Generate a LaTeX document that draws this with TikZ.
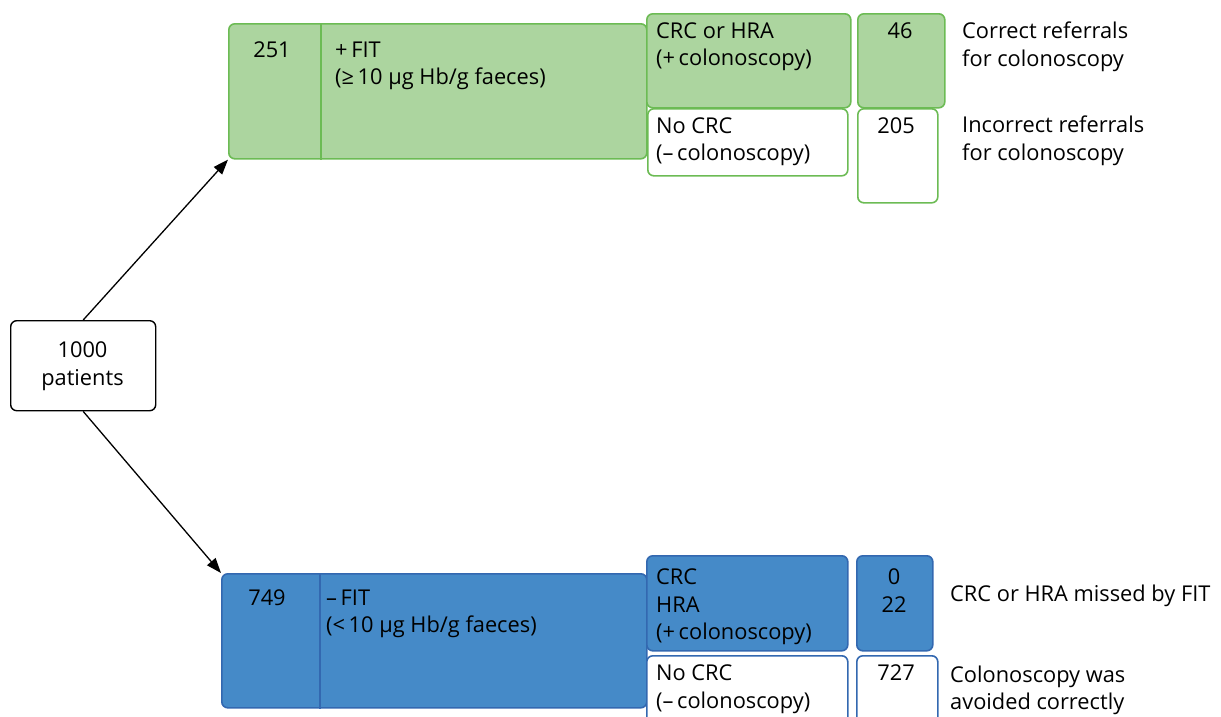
\documentclass[tikz,border=0pt]{standalone}
\usepackage{fontspec}
\setmainfont{Open Sans}
\usetikzlibrary{arrows.meta}
\definecolor{gfill}{RGB}{172,213,159}
\definecolor{gline}{RGB}{108,187,84}
\definecolor{bfill}{RGB}{69,138,200}
\definecolor{bline}{RGB}{51,104,176}
\newcommand{\dfont}{\fontsize{21.8}{27.5}\selectfont}
\begin{document}
\begin{tikzpicture}[x=1pt,y=-1pt,
 box/.style={draw, rounded corners=6pt, inner sep=0pt, anchor=north west, line width=1.6pt},
 gbox/.style={box, draw=gline, fill=gfill},
 gwbox/.style={box, draw=gline, fill=white},
 bbox/.style={box, draw=bline, fill=bfill},
 bwbox/.style={box, draw=bline, fill=white},
 kbox/.style={box, draw=black, fill=white, line width=1.4pt},
 txt/.style={inner sep=0pt, font=\dfont, align=left, anchor=north west},
 ctxt/.style={txt, align=center, anchor=north},
 arr/.style={-{Triangle[length=15pt,width=11pt]}, line width=1.3pt}]
\useasboundingbox (0,0) rectangle (1221,716);
\clip (0,0) rectangle (1221,716);

% top (green) branch
\node[gbox, minimum width=418pt, minimum height=135pt] (g) at (228,23) {};
\draw[draw=gline, line width=1.6pt] ([xshift=93pt]g.north west) -- ([xshift=93pt]g.south west);
\node[gbox, minimum width=204pt, minimum height=94pt] (gcrc) at (646,13) {};
\node[gbox, minimum width=87pt, minimum height=94pt] (g46) at (857,13) {};
\node[gwbox, minimum width=200pt, minimum height=67pt] (gno) at (647,108) {};
\node[gwbox, minimum width=80pt, minimum height=94pt] (g205) at (857,108) {};

\node[ctxt] (t251) at (272,38) {\strut 251};
\node[txt] (tpfit) at (335,38) {\strut +\,FIT\\(≥\,10 µg Hb/g faeces)};
\node[txt] (tgcrc) at (656,19) {\strut CRC or HRA\\(+\,colonoscopy)};
\node[ctxt] (t46) at (900,19) {\strut 46};
\node[txt] (tgno) at (656,114) {\strut No CRC\\(–\,colonoscopy)};
\node[ctxt] (t205) at (896,114) {\strut 205};
\node[txt] (tcorr) at (962,19.5) {\strut Correct referrals\\for colonoscopy};
\node[txt] (tinc) at (962,113.5) {\strut Incorrect referrals\\for colonoscopy};

% start
\node[kbox, minimum width=145pt, minimum height=90pt] (p) at (10,320) {};
\node[ctxt] (tp) at (82.5,338.5) {\strut 1000\\patients};

% bottom (blue) branch
\node[bbox, minimum width=425pt, minimum height=134pt] (b) at (221,573) {};
\draw[draw=bline, line width=1.6pt] ([xshift=99pt]b.north west) -- ([xshift=99pt]b.south west);
\node[bbox, minimum width=201pt, minimum height=95pt] (bcrc) at (646,555) {};
\node[bbox, minimum width=76pt, minimum height=95pt] (b0) at (856,555) {};
\node[bwbox, minimum width=201pt, minimum height=80pt] (bno) at (646,655) {};
\node[bwbox, minimum width=81pt, minimum height=80pt] (b727) at (856,655) {};

\node[ctxt] (t749) at (267,586) {\strut 749};
\node[txt] (tmfit) at (326,586) {\strut –\,FIT\\(<\,10 µg Hb/g faeces)};
\node[txt] (tbcrc) at (656,565.5) {\strut CRC\\HRA\\(+\,colonoscopy)};
\node[ctxt] (t0) at (894,565.5) {\strut 0\\22};
\node[txt] (tbno) at (656,661.5) {\strut No CRC\\(–\,colonoscopy)};
\node[ctxt] (t727) at (896,661.5) {\strut 727};
\node[txt] (tmiss) at (950,582.5) {\strut CRC or HRA missed by FIT};
\node[txt] (tavoid) at (950,663) {\strut Colonoscopy was\\avoided correctly};

% connectors
\draw[arr] (p.north) -- (g.south west);
\draw[arr] (p.south) -- (b.north west);
\end{tikzpicture}
\end{document}
